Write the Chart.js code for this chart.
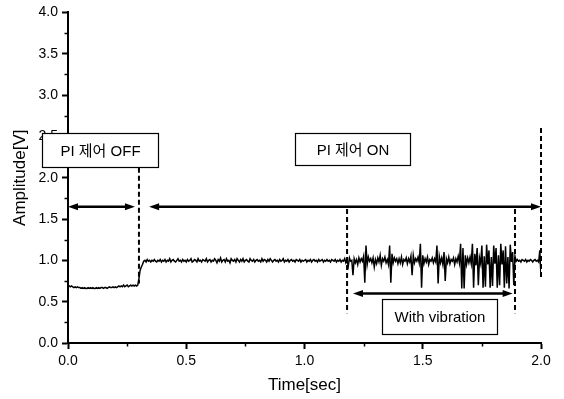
<!DOCTYPE html>
<html>
<head>
<meta charset="utf-8">
<script src="https://cdn.jsdelivr.net/npm/chart.js@4.4.1/dist/chart.umd.min.js"></script>
<style>
  html, body { margin: 0; padding: 0; background: #fff; }
  #wrap { width: 564px; height: 399px; }
</style>
</head>
<body>
<div id="wrap"><canvas id="c" width="564" height="399"></canvas></div>
<script>
// ---------- DATA ----------
const sampleStep = 0.005; // seconds between samples
// PI control OFF: t = 0.000 .. 0.295
const piOffValues = [
  0.70,0.69,0.68,0.69,0.68,0.67,0.68,0.67,0.68,0.67,0.67,0.66,0.67,0.66,0.67,0.66,0.66,0.67,0.66,0.67,
  0.66,0.67,0.66,0.66,0.67,0.66,0.67,0.66,0.67,0.67,0.66,0.67,0.67,0.66,0.67,0.68,0.67,0.67,0.68,0.67,
  0.68,0.67,0.68,0.69,0.68,0.69,0.68,0.70,0.68,0.69,0.70,0.68,0.69,0.70,0.69,0.70,0.69,0.70,0.69,0.70
];
// PI control ON, no vibration: t = 0.300 .. 1.195
const piOnValues = [
  0.78,0.88,0.92,0.95,0.99,1.00,0.98,1.01,0.99,1.00,0.98,1.00,0.99,1.01,0.99,0.98,1.00,0.99,1.01,0.98,
  1.00,0.99,1.01,0.98,1.00,0.99,1.02,0.98,1.00,1.01,0.99,0.98,1.00,1.02,0.99,1.00,0.98,1.01,0.99,1.00,
  0.98,1.01,0.99,1.00,1.02,0.98,0.99,1.01,1.00,0.98,1.02,0.99,1.00,0.98,1.01,1.00,0.99,1.02,0.98,1.00,
  1.01,0.98,1.00,0.99,1.02,1.00,0.97,1.01,0.99,1.03,0.98,1.00,1.01,0.98,1.02,0.99,1.00,0.97,1.02,1.00,
  0.99,1.01,0.98,1.02,1.00,0.98,1.01,0.99,1.02,0.98,1.00,1.01,0.99,0.98,1.02,1.00,0.99,1.01,0.98,1.00,
  1.01,0.99,1.00,0.98,1.02,0.99,1.01,1.00,0.98,1.01,0.99,1.02,1.00,0.98,1.00,1.01,0.99,1.00,0.98,1.01,
  0.99,1.00,1.02,0.98,1.00,0.99,1.01,0.98,1.00,1.01,0.99,1.00,0.98,1.01,1.00,0.99,1.01,0.98,1.00,0.99,
  1.00,1.01,0.98,1.00,0.99,1.01,0.98,1.00,1.01,0.99,1.00,0.98,1.01,0.99,1.00,1.01,0.98,1.00,0.99,1.01,
  0.99,1.00,0.98,1.01,1.00,0.99,1.01,0.98,1.00,0.99,1.01,0.98,1.00,0.99,1.02,0.97,1.00,0.93,1.03,0.99
];
// With vibration: t = 1.200 .. 1.895
const vibrationValues = [
  1.00,0.82,1.02,0.97,1.01,0.95,1.03,0.98,1.02,0.99,1.05,0.73,1.18,0.95,1.04,0.99,1.02,0.97,1.03,0.92,
  1.01,0.96,1.03,0.98,1.06,0.94,1.02,0.99,1.04,0.97,1.01,0.95,1.18,0.73,1.08,0.97,1.03,0.99,1.02,0.96,
  1.02,0.97,1.04,0.95,1.01,0.99,1.03,0.96,1.02,0.98,1.05,0.82,1.06,0.97,1.02,0.99,1.04,0.97,1.20,0.67,
  1.06,0.96,1.02,0.98,1.04,0.95,1.01,0.99,1.03,0.97,1.02,0.98,1.18,0.72,1.05,0.97,1.03,0.95,1.10,0.75,
  1.02,0.97,1.04,0.96,1.01,0.99,1.03,0.95,1.02,0.98,1.05,0.97,1.20,0.66,1.15,0.66,1.06,0.95,1.03,0.97,
  1.04,0.96,1.20,0.67,1.08,0.94,1.15,0.70,1.03,0.96,1.18,0.67,1.05,0.68,1.19,0.95,1.12,0.67,1.04,0.69,
  1.18,0.96,1.15,0.67,1.06,0.70,1.20,0.95,1.12,0.67,1.17,0.72,1.04,0.66,1.19,0.98,1.10,0.70,1.05,0.99
];
// Vibration stopped: t = 1.900 .. 2.000
const settleValues = [
  1.01,0.99,1.00,0.98,1.01,1.00,0.99,1.01,0.98,1.00,0.99,1.01,1.00,0.98,1.00,1.01,0.99,1.00,0.98,1.12,
  0.80
];

const xTicks = [0.0, 0.5, 1.0, 1.5, 2.0];
const yTicks = [0.0, 0.5, 1.0, 1.5, 2.0, 2.5, 3.0, 3.5, 4.0];
const xMinorTicks = [0.25, 0.75, 1.25, 1.75];
const yMinorTicks = [0.25, 0.75, 1.25, 1.75, 2.25, 2.75, 3.25, 3.75];

const xTitle = 'Time[sec]';
const yTitle = 'Amplitude[V]';

// annotations (data units)
const labelBoxes = [
  { text: 'PI 제어 OFF', t0: -0.11, t1: 0.38, v0: 2.13, v1: 2.54 },
  { text: 'PI 제어 ON', t0: 0.96, t1: 1.446, v0: 2.15, v1: 2.54 },
  { text: 'With vibration', t0: 1.328, t1: 1.814, v0: 0.11, v1: 0.53 }
];
const dashedMarkers = [
  { t: 0.30, from: 2.12, to: 0.72 },
  { t: 1.18, from: 1.62, to: 0.36 },
  { t: 1.89, from: 1.62, to: 0.36 },
  { t: 2.00, from: 2.60, to: 0.80 }
];
const spanArrows = [
  { t0: 0.0, t1: 0.283, v: 1.65 },
  { t0: 0.343, t1: 2.0, v: 1.65 },
  { t0: 1.205, t1: 1.88, v: 0.60 }
];

// ---------- BUILD ----------
const amplitude = [].concat(piOffValues, piOnValues, vibrationValues, settleValues);
const points = amplitude.map((v, i) => ({ x: +(i * sampleStep).toFixed(3), y: v }));

const FONT = '"Liberation Sans", Arial, "Noto Sans CJK KR", sans-serif';

const annotPlugin = {
  id: 'annot',
  afterDraw(chart) {
    const { ctx, scales: { x, y } } = chart;
    const px = v => x.getPixelForValue(v);
    const py = v => y.getPixelForValue(v);
    ctx.save();
    ctx.strokeStyle = '#000';
    ctx.fillStyle = '#000';
    // minor ticks
    ctx.lineWidth = 1.5;
    xMinorTicks.forEach(v => {
      const X = Math.round(px(v)) + 0.5;
      ctx.beginPath(); ctx.moveTo(X, y.bottom); ctx.lineTo(X, y.bottom + 3.5); ctx.stroke();
    });
    yMinorTicks.forEach(v => {
      const Y = Math.round(py(v)) + 0.5;
      ctx.beginPath(); ctx.moveTo(x.left, Y); ctx.lineTo(x.left - 3.5, Y); ctx.stroke();
    });
    // dashed markers
    ctx.lineWidth = 2;
    ctx.setLineDash([5, 3]);
    dashedMarkers.forEach(d => {
      const X = px(d.t);
      ctx.beginPath(); ctx.moveTo(X, py(d.from)); ctx.lineTo(X, py(d.to)); ctx.stroke();
    });
    ctx.setLineDash([]);
    // arrows
    const head = 10, half = 3.5;
    spanArrows.forEach(a => {
      const X0 = px(a.t0), X1 = px(a.t1), Y = py(a.v);
      ctx.lineWidth = 2.5;
      ctx.beginPath(); ctx.moveTo(X0 + head - 1, Y); ctx.lineTo(X1 - head + 1, Y); ctx.stroke();
      ctx.beginPath(); ctx.moveTo(X0, Y); ctx.lineTo(X0 + head, Y - half); ctx.lineTo(X0 + head, Y + half); ctx.closePath(); ctx.fill();
      ctx.beginPath(); ctx.moveTo(X1, Y); ctx.lineTo(X1 - head, Y - half); ctx.lineTo(X1 - head, Y + half); ctx.closePath(); ctx.fill();
    });
    // label boxes
    ctx.font = '15px ' + FONT;
    ctx.textAlign = 'center';
    ctx.textBaseline = 'middle';
    labelBoxes.forEach(b => {
      const L = Math.round(px(b.t0)) + 0.5, R = Math.round(px(b.t1)) + 0.5;
      const T = Math.round(py(b.v1)) + 0.5, B = Math.round(py(b.v0)) + 0.5;
      ctx.fillStyle = '#fff';
      ctx.fillRect(L, T, R - L, B - T);
      ctx.lineWidth = 1.2;
      ctx.strokeStyle = '#000';
      ctx.strokeRect(L, T, R - L, B - T);
      ctx.fillStyle = '#000';
      ctx.fillText(b.text, (L + R) / 2, (T + B) / 2 + 1);
    });
    ctx.restore();
  }
};

new Chart(document.getElementById('c'), {
  type: 'line',
  data: {
    datasets: [{
      data: points,
      borderColor: '#000',
      borderWidth: 1.5,
      pointRadius: 0,
      tension: 0,
      fill: false
    }]
  },
  options: {
    responsive: false,
    animation: false,
    events: [],
    layout: { padding: { left: 0, right: 23, top: 11, bottom: 0 } },
    plugins: { legend: { display: false }, tooltip: { enabled: false } },
    scales: {
      x: {
        type: 'linear',
        min: 0, max: 2,
        afterFit: s => { s.height = 56; },
        afterBuildTicks: s => { s.ticks = xTicks.map(v => ({ value: v })); },
        ticks: {
          color: '#000',
          font: { family: FONT, size: 14 },
          padding: 4,
          maxRotation: 0,
          callback: v => Number(v).toFixed(1)
        },
        grid: { display: true, drawOnChartArea: false, drawTicks: true, tickLength: 6, tickColor: '#000', tickWidth: 2 },
        border: { display: true, color: '#000', width: 2 },
        title: { display: true, text: xTitle, color: '#000', font: { family: FONT, size: 17 }, padding: { top: 0, bottom: 3 } }
      },
      y: {
        min: 0, max: 4,
        afterFit: s => { s.width = 68; },
        afterBuildTicks: s => { s.ticks = yTicks.map(v => ({ value: v })); },
        ticks: {
          color: '#000',
          font: { family: FONT, size: 14 },
          padding: 4,
          callback: v => Number(v).toFixed(1)
        },
        grid: { display: true, drawOnChartArea: false, drawTicks: true, tickLength: 6, tickColor: '#000', tickWidth: 2 },
        border: { display: true, color: '#000', width: 2 },
        title: { display: true, text: yTitle, color: '#000', font: { family: FONT, size: 17 }, padding: { top: 10, bottom: 0 } }
      }
    }
  },
  plugins: [annotPlugin]
});
</script>
</body>
</html>
